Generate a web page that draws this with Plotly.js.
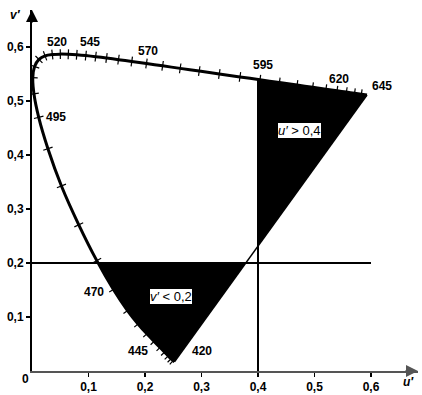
<!DOCTYPE html>
<html>
<head>
<meta charset="utf-8">
<script src="https://cdn.plot.ly/plotly-3.0.1.min.js"></script>
<style>html,body{margin:0;padding:0;background:#fff;}#chart{width:422px;height:395px;}</style>
</head>
<body>
<div id="chart"></div>
<script>
// Spectral locus (CIE 1976 u'v'), 5 nm steps, 420–645 nm
const wavelengths = [420,425,430,435,440,445,450,455,460,465,470,475,480,485,490,495,500,505,510,515,520,525,530,535,540,545,550,555,560,565,570,575,580,585,590,595,600,605,610,615,620,625,630,635,640,645];
const uPrime = [0.2522,0.2496,0.2461,0.2411,0.2347,0.2266,0.2161,0.2033,0.1877,0.1690,0.1441,0.1147,0.0828,0.0521,0.0282,0.0119,0.0035,0.0014,0.0046,0.0123,0.0231,0.0360,0.0501,0.0643,0.0792,0.0953,0.1127,0.1319,0.1531,0.1766,0.2026,0.2312,0.2623,0.2960,0.3315,0.3681,0.4035,0.4379,0.4692,0.4968,0.5203,0.5399,0.5565,0.5709,0.5830,0.5929];
const vPrime = [0.0169,0.0191,0.0226,0.0279,0.0350,0.0437,0.0549,0.0688,0.0871,0.1119,0.1510,0.2044,0.2708,0.3427,0.4117,0.4698,0.5131,0.5432,0.5638,0.5770,0.5837,0.5861,0.5868,0.5865,0.5856,0.5841,0.5821,0.5796,0.5766,0.5732,0.5694,0.5651,0.5604,0.5554,0.5501,0.5446,0.5393,0.5342,0.5296,0.5254,0.5219,0.5190,0.5165,0.5143,0.5125,0.5111];
const labelledWl = [420,445,470,495,520,545,570,595,620,645];
const vLimit = 0.2;   // v' < 0,2
const uLimit = 0.4;   // u' > 0,4
const uTicks = [0.1,0.2,0.3,0.4,0.5,0.6];
const uTickText = ['0,1','0,2','0,3','0,4','0,5','0,6'];
const vTicks = [0.1,0.2,0.3,0.4,0.5,0.6];
const vTickText = ['0,1','0,2','0,3','0,4','0,5','0,6'];

const n = wavelengths.length;
const P0 = [uPrime[0], vPrime[0]], P1 = [uPrime[n-1], vPrime[n-1]];
function purpleAtV(v){ return P0[0] + (v-P0[1])/(P1[1]-P0[1])*(P1[0]-P0[0]); }
function purpleAtU(u){ return P0[1] + (u-P0[0])/(P1[0]-P0[0])*(P1[1]-P0[1]); }

// v' < 0,2 region
const fa_u = [], fa_v = [];
for (let i=0;i<n;i++){
  if (vPrime[i] < vLimit){ fa_u.push(uPrime[i]); fa_v.push(vPrime[i]); }
  else {
    const t=(vLimit-vPrime[i-1])/(vPrime[i]-vPrime[i-1]);
    fa_u.push(uPrime[i-1]+t*(uPrime[i]-uPrime[i-1])); fa_v.push(vLimit);
    break;
  }
}
fa_u.push(purpleAtV(vLimit)); fa_v.push(vLimit);
// u' > 0,4 region
const fb_u = [], fb_v = [];
let vTopAtU = null;
for (let i=1;i<n;i++){
  if (uPrime[i-1] < uLimit && uPrime[i] >= uLimit){
    const t=(uLimit-uPrime[i-1])/(uPrime[i]-uPrime[i-1]);
    vTopAtU = vPrime[i-1]+t*(vPrime[i]-vPrime[i-1]);
    fb_u.push(uLimit); fb_v.push(vTopAtU);
  }
  if (fb_u.length && uPrime[i] > uLimit){ fb_u.push(uPrime[i]); fb_v.push(vPrime[i]); }
}
fb_u.push(uLimit); fb_v.push(purpleAtU(uLimit));

// tick-mark angles on locus (perpendicular)
const SX = 565, SY = 540;
const ang = [];
for (let i=0;i<n;i++){
  const a = Math.max(0,i-1), b = Math.min(n-1,i+1);
  const dx = (uPrime[b]-uPrime[a])*SX, dy = -(vPrime[b]-vPrime[a])*SY;
  ang.push(Math.atan2(dy,dx)*180/Math.PI);
}

const font = {family:'"Liberation Sans", Arial, sans-serif', size:12, color:'#000', weight:'bold'};

const traces = [
  {x:fa_u, y:fa_v, mode:'lines', fill:'toself', fillcolor:'#000', line:{width:0,color:'#000'}, hoverinfo:'skip'},
  {x:fb_u, y:fb_v, mode:'lines', fill:'toself', fillcolor:'#000', line:{width:0,color:'#000'}, hoverinfo:'skip'},
  {x:[P0[0],P1[0]], y:[P0[1],P1[1]], mode:'lines', line:{width:1.5,color:'#000'}, hoverinfo:'skip'},
  {x:[0,0.6], y:[vLimit,vLimit], mode:'lines', line:{width:2,color:'#000'}, hoverinfo:'skip'},
  {x:[uLimit,uLimit], y:[0,vTopAtU], mode:'lines', line:{width:2,color:'#000'}, hoverinfo:'skip'},
  {x:uPrime, y:vPrime, mode:'lines', line:{width:3,color:'#000',shape:'spline',smoothing:0.6}, hoverinfo:'skip'},
  {x:uPrime.slice(1,n-1), y:vPrime.slice(1,n-1), mode:'markers', hoverinfo:'skip',
   marker:{symbol:'line-ns', size:7, angle:ang.slice(1,n-1), color:'#000', line:{width:1.2,color:'#000'}}}
];

const labelPos = {420:[0.300,0.037],445:[0.187,0.037],470:[0.109,0.146],495:[0.043,0.470],520:[0.045,0.609],545:[0.102,0.609],570:[0.206,0.593],595:[0.408,0.567],620:[0.544,0.541],645:[0.619,0.528]};
const annotations = labelledWl.map(w => ({x:labelPos[w][0], y:labelPos[w][1], text:String(w), showarrow:false, font:font, xanchor:'center', yanchor:'middle'}));
const boxFont = {family:'"Liberation Sans", Arial, sans-serif', size:13, color:'#000', weight:'normal'};
annotations.push({x:0.246, y:0.138, text:"<i>v′</i> < 0,2", showarrow:false, font:boxFont, bgcolor:'#fff', bordercolor:'#000', borderwidth:1, borderpad:0});
annotations.push({x:0.4726, y:0.445, text:"<i>u′</i> > 0,4", showarrow:false, font:boxFont, bgcolor:'#fff', bordercolor:'#000', borderwidth:1, borderpad:0});
// axis arrows
const xMax = 386/565, yMax = 361/540;
annotations.push({x:xMax, y:0, ax:-14, ay:0, text:'', showarrow:true, arrowhead:2, arrowsize:1.2, arrowwidth:2, arrowcolor:'#555'});
annotations.push({x:0, y:yMax, ax:0, ay:14, text:'', showarrow:true, arrowhead:2, arrowsize:1.2, arrowwidth:2, arrowcolor:'#000'});
annotations.push({xref:'paper', yref:'paper', x:-0.018, y:-0.022, text:'0', showarrow:false, font:font, xanchor:'center', yanchor:'middle'});
annotations.push({xref:'paper', yref:'paper', x:0.976, y:-0.03, text:'<i>u′</i>', showarrow:false, font:font, xanchor:'center', yanchor:'middle'});
annotations.push({xref:'paper', yref:'paper', x:-0.044, y:0.986, text:'<i>v′</i>', showarrow:false, font:font, xanchor:'center', yanchor:'middle'});

const layout = {
  width:422, height:395,
  margin:{l:32, r:4, t:10, b:24},
  paper_bgcolor:'#fff', plot_bgcolor:'#fff',
  showlegend:false,
  separators:', ',
  font:font,
  xaxis:{range:[0,xMax], showgrid:false, zeroline:false, showline:true, linecolor:'#555', linewidth:2,
         ticks:'outside', ticklen:4, tickwidth:1.5, tickcolor:'#000', tickvals:uTicks, ticktext:uTickText, tickfont:font},
  yaxis:{range:[0,yMax], showgrid:false, zeroline:false, showline:true, linecolor:'#000', linewidth:2,
         ticks:'outside', ticklen:4, tickwidth:1.5, tickcolor:'#000', tickvals:vTicks, ticktext:vTickText, tickfont:font},
  annotations:annotations
};
Plotly.newPlot('chart', traces, layout, {staticPlot:true, displayModeBar:false});
</script>
</body>
</html>
